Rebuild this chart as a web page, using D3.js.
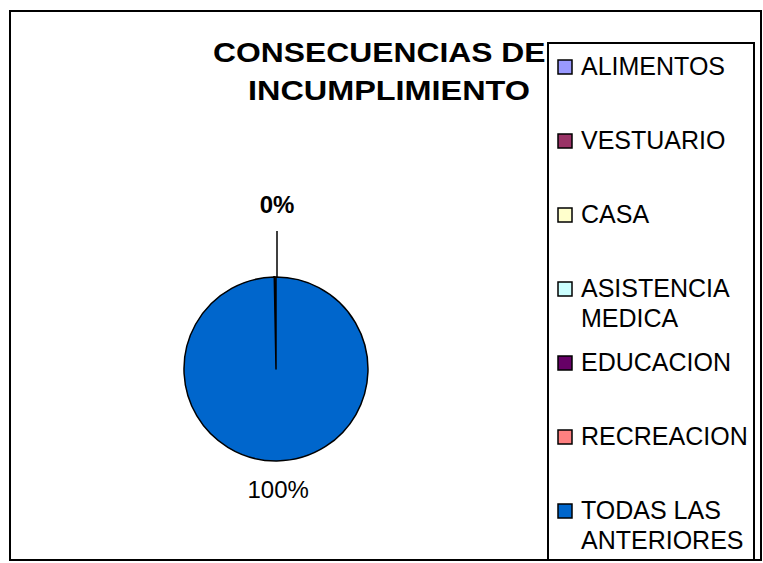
<!DOCTYPE html>
<html>
<head>
<meta charset="utf-8">
<script src="https://cdn.jsdelivr.net/npm/d3@7"></script>
<style>
  html, body { margin: 0; padding: 0; background: #fff; }
  svg { display: block; font-family: Arial, "Liberation Sans", sans-serif; }
</style>
</head>
<body>
<div id="chart"></div>
<script>
// data
const categories = ["ALIMENTOS", "VESTUARIO", "CASA", "ASISTENCIA MEDICA", "EDUCACION", "RECREACION", "TODAS LAS ANTERIORES"];
const values = [0, 0, 0, 0, 0, 0.3, 99.7];
const colors = ["#9999FF", "#993366", "#FFFFCC", "#CCFFFF", "#660066", "#FF8080", "#0066CC"];
const titleLines = ["CONSECUENCIAS DEL", "INCUMPLIMIENTO"];

const width = 763, height = 563;

const svg = d3.select("#chart").append("svg")
    .attr("width", width)
    .attr("height", height);

// outer chart frame
svg.append("rect")
    .attr("x", 10).attr("y", 11)
    .attr("width", 751).attr("height", 549)
    .attr("fill", "#fff")
    .attr("stroke", "#000")
    .attr("stroke-width", 2);

// Title (sits under the legend box, like the original)
const titleX = 389;
svg.append("g").selectAll("text")
    .data(titleLines)
    .enter().append("text")
    .attr("x", titleX)
    .attr("y", (d, i) => 62 + i * 38)
    .attr("text-anchor", "middle")
    .attr("font-size", 28)
    .attr("font-weight", "bold")
    .attr("textLength", (d, i) => i === 0 ? 352 : 282)
    .attr("lengthAdjust", "spacingAndGlyphs")
    .text(d => d);

// Pie
const total = d3.sum(values);
const small = d3.sum(values.slice(0, -1));
const cx = 276, cy = 369, r = 92;

const pie = d3.pie()
    .sort(null)
    .value(d => d)
    .startAngle(-2 * Math.PI * small / total)
    .endAngle(2 * Math.PI - 2 * Math.PI * small / total);

const arcs = pie(values);
const arc = d3.arc().innerRadius(0).outerRadius(r);

const pieG = svg.append("g").attr("transform", `translate(${cx},${cy})`);

pieG.selectAll("path")
    .data(arcs)
    .enter().append("path")
    .attr("d", arc)
    .attr("fill", (d, i) => colors[i])
    .attr("stroke", "#000")
    .attr("stroke-width", 1.5)
    .attr("stroke-linejoin", "round");

// Labels - the tiny slices all share one pulled-out label at the top
const fmt = d3.format(".0%");
const midA = d => (d.startAngle + d.endAngle) / 2;
let tinyDone = false;

arcs.forEach((d, i) => {
    const share = d.value / total;
    const a = midA(d);
    if (share < 0.01) {
        if (tinyDone) return;
        tinyDone = true;
        pieG.append("line")
            .attr("x1", 1).attr("y1", -r)
            .attr("x2", 1).attr("y2", -138)
            .attr("stroke", "#000")
            .attr("stroke-width", 1.5);
        pieG.append("text")
            .attr("x", 1)
            .attr("y", -156)
            .attr("text-anchor", "middle")
            .attr("font-size", 24)
            .attr("font-weight", "bold")
            .text(fmt(share));
    } else {
        const lr = 120;
        pieG.append("text")
            .attr("x", Math.sin(a) * lr + 1)
            .attr("y", -Math.cos(a) * lr + 9)
            .attr("text-anchor", "middle")
            .attr("font-size", 24)
            .text(fmt(share));
    }
});

// Legend
const legend = svg.append("g");
legend.append("rect")
    .attr("x", 548).attr("y", 43)
    .attr("width", 206).attr("height", 517)
    .attr("fill", "#fff")
    .attr("stroke", "#000")
    .attr("stroke-width", 2);

const ly = d3.scaleLinear().domain([0, categories.length - 1]).range([75, 519]);

const items = legend.selectAll("g.item")
    .data(categories)
    .enter().append("g")
    .attr("class", "item")
    .attr("transform", (d, i) => `translate(0,${ly(i)})`);

items.append("rect")
    .attr("x", 558).attr("y", -15)
    .attr("width", 14).attr("height", 14)
    .attr("fill", (d, i) => colors[i])
    .attr("stroke", "#000")
    .attr("stroke-width", 1.5);

items.each(function (d) {
    const t = d3.select(this).append("text")
        .attr("x", 581)
        .attr("font-size", 25);
    // wrap words to the legend width
    const words = d.split(" ");
    let line = [];
    let tspan = t.append("tspan").attr("x", 581).attr("dy", 0);
    words.forEach(w => {
        line.push(w);
        tspan.text(line.join(" "));
        if (tspan.node().getComputedTextLength() > 170 && line.length > 1) {
            line.pop();
            tspan.text(line.join(" "));
            line = [w];
            tspan = t.append("tspan").attr("x", 581).attr("dy", 30).text(w);
        }
    });
});
</script>
</body>
</html>
